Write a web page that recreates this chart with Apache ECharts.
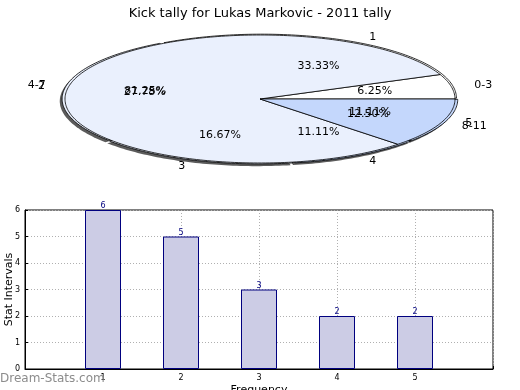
<!DOCTYPE html>
<html>
<head>
<meta charset="utf-8">
<script src="https://cdn.jsdelivr.net/npm/echarts@6/dist/echarts.min.js"></script>
<style>html,body{margin:0;padding:0;background:#fff}#c{width:520px;height:390px}</style>
</head>
<body>
<div id="c"></div>
<script>
const titleText = 'Kick tally for Lukas Markovic - 2011 tally';
const rangeLabels = ['0-3', '4-7', '8-11'];
const rangeCounts = [1, 13, 2];
const freqLabels = ['1', '2', '3', '4', '5'];
const freqCounts = [6, 5, 3, 2, 2];
const freqPositions = [1, 2, 3, 4, 5];
const yTickValues = [0, 1, 2, 3, 4, 5, 6];

const FONT = 'DejaVu Sans';
const rangeColors = ['#ffffff', '#eaf0fd', '#c4d7fc'];
const freqColors = ['#ffffff', '#eaf0fd', '#eaf0fd', '#c4d7fc', '#c4d7fc'];

function makePie(labels, values, colors, explode, zBase, withShadow) {
  const total = values.reduce((a, b) => a + b, 0);
  const starts = [];
  let acc = 0;
  values.forEach(v => { starts.push(acc); acc += v; });
  return {
    type: 'custom',
    xAxisIndex: 1,
    yAxisIndex: 1,
    silent: true,
    data: values.map((v, i) => [i, v]),
    renderItem(params, api) {
      const i = params.dataIndex;
      const v = api.value(1);
      const a0 = starts[i] / total * 2 * Math.PI;
      const a1 = (starts[i] + v) / total * 2 * Math.PI;
      const mid = (a0 + a1) / 2;
      const cx = explode * Math.cos(mid), cy = explode * Math.sin(mid);
      const n = Math.max(3, Math.ceil((a1 - a0) / 0.02));
      const pts = [api.coord([cx, cy])];
      const sh = [api.coord([cx - 0.012, cy - 0.035])];
      for (let k = 0; k <= n; k++) {
        const a = a0 + (a1 - a0) * k / n;
        pts.push(api.coord([cx + Math.cos(a), cy + Math.sin(a)]));
        sh.push(api.coord([cx - 0.012 + Math.cos(a), cy - 0.035 + Math.sin(a)]));
      }
      const pIn = api.coord([0.6 * Math.cos(mid), 0.6 * Math.sin(mid)]);
      const pOut = api.coord([1.12 * Math.cos(mid), 1.12 * Math.sin(mid)]);
      const pct = (v / total * 100).toFixed(2) + '%';
      const children = [];
      if (withShadow) {
        children.push({
          type: 'polygon', z2: zBase - 1,
          shape: { points: sh },
          style: { fill: 'rgba(50,50,50,0.8)', stroke: null }
        });
      }
      children.push({
        type: 'polygon', z2: zBase,
        shape: { points: pts },
        style: { fill: colors[i % colors.length], stroke: '#000', lineWidth: 0.8 }
      });
      children.push({
        type: 'text', z2: 100,
        x: pIn[0], y: pIn[1],
        style: { text: pct, fill: '#000', font: '11px "' + FONT + '"', align: 'center', verticalAlign: 'middle' }
      });
      children.push({
        type: 'text', z2: 100,
        x: pOut[0], y: pOut[1],
        style: { text: labels[i], fill: '#000', font: '11px "' + FONT + '"',
          align: Math.cos(mid) >= 0 ? 'left' : 'right', verticalAlign: 'middle' }
      });
      return { type: 'group', children };
    }
  };
}

const chart = echarts.init(document.getElementById('c'), null, { renderer: 'canvas' });
chart.setOption({
  animation: false,
  backgroundColor: '#fff',
  textStyle: { fontFamily: FONT },
  title: {
    text: titleText, left: 'center', top: 2,
    textStyle: { fontFamily: FONT, fontSize: 13, fontWeight: 'normal', color: '#000' }
  },
  graphic: [{
    type: 'text', left: 0, top: 373, z: 50,
    style: { text: 'Dream-Stats.com', fill: '#8c8c8c', font: '12px "' + FONT + '"' }
  }],
  grid: [
    { left: 25, right: 27, top: 210, bottom: 21, show: true, borderColor: '#000', borderWidth: 1,
      backgroundColor: 'transparent', containLabel: false, outerBoundsMode: 'none' },
    { left: 65, width: 390, top: 35, height: 128, show: false, containLabel: false, outerBoundsMode: 'none' }
  ],
  xAxis: [
    {
      type: 'value', gridIndex: 0, min: 0, max: 6, interval: 1,
      name: 'Frequency', nameLocation: 'middle', nameGap: 16, nameMoveOverlap: false,
      nameTextStyle: { fontFamily: FONT, fontSize: 11, color: '#000' },
      axisLine: { show: true, lineStyle: { color: '#000', width: 1 } },
      axisTick: { show: true, inside: true, length: 3, lineStyle: { color: '#000' } },
      axisLabel: { fontFamily: FONT, fontSize: 8, color: '#000', margin: 5,
        formatter: v => (freqPositions.indexOf(v) >= 0 ? freqLabels[freqPositions.indexOf(v)] : '') },
      splitLine: { show: true, lineStyle: { color: '#b0b0b0', type: [1, 2], width: 1 } }
    },
    { type: 'value', gridIndex: 1, min: -1, max: 1, show: false }
  ],
  yAxis: [
    {
      type: 'value', gridIndex: 0, min: yTickValues[0], max: yTickValues[yTickValues.length - 1], interval: 1,
      name: 'Stat Intervals', nameLocation: 'middle', nameGap: 10, nameMoveOverlap: false,
      nameTextStyle: { fontFamily: FONT, fontSize: 11, color: '#000' },
      axisLine: { show: true, lineStyle: { color: '#000', width: 1 } },
      axisTick: { show: true, inside: true, length: 3, lineStyle: { color: '#000' } },
      axisLabel: { fontFamily: FONT, fontSize: 8, color: '#000', margin: 5 },
      splitLine: { show: true, lineStyle: { color: '#b0b0b0', type: [1, 2], width: 1 } }
    },
    { type: 'value', gridIndex: 1, min: -1, max: 1, show: false }
  ],
  series: [
    {
      type: 'bar', xAxisIndex: 0, yAxisIndex: 0,
      data: freqPositions.map((x, i) => [x, freqCounts[i]]),
      barWidth: 36,
      itemStyle: { color: '#cccce5', borderColor: '#00007f', borderWidth: 1 },
      label: { show: true, position: 'top', distance: 0, fontFamily: FONT, fontSize: 8, color: '#00007f' }
    },
    makePie(freqLabels, freqCounts, freqColors, 0.015, 1, true),
    makePie(rangeLabels, rangeCounts, rangeColors, 0, 5, false)
  ]
});
</script>
</body>
</html>
